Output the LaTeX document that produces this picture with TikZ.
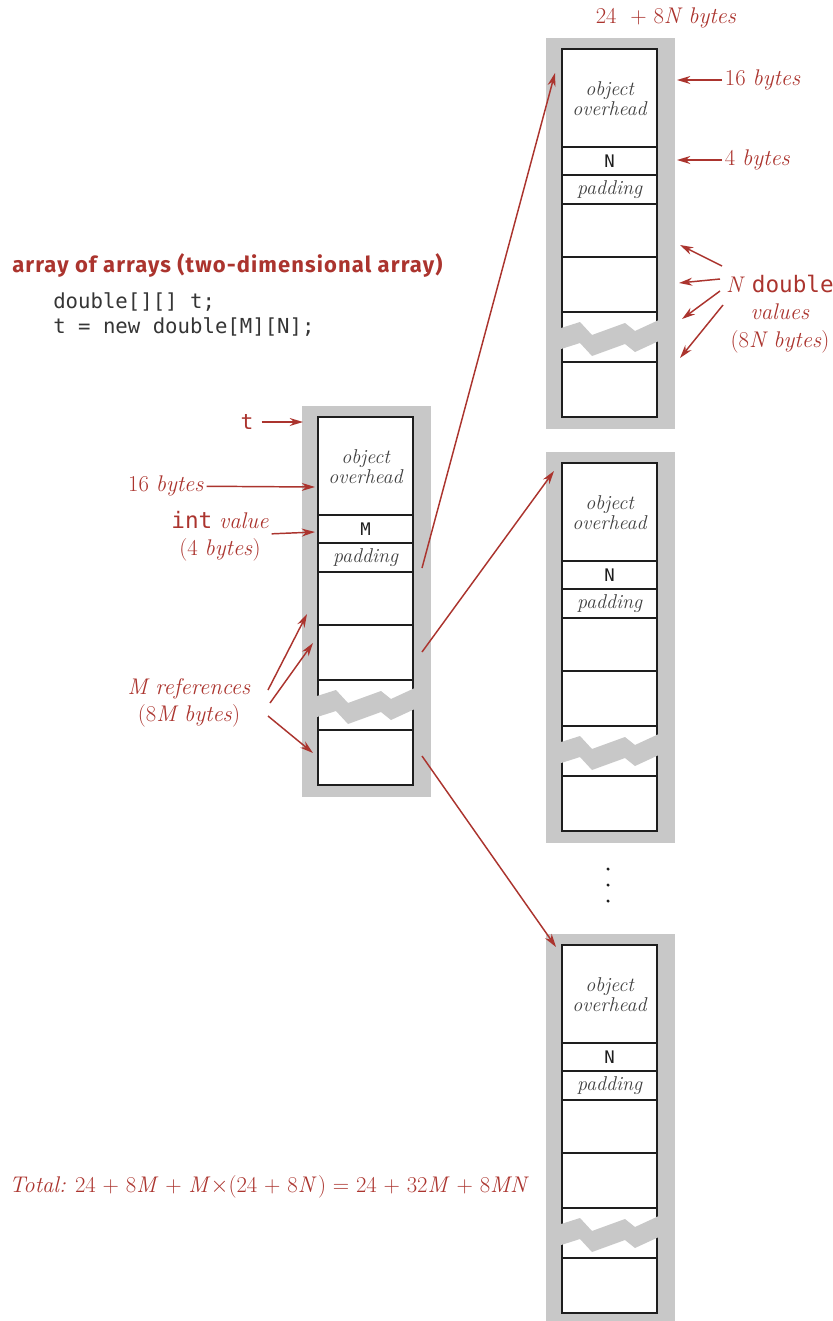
\documentclass[tikz,border=0pt]{standalone}
\usepackage{fontspec}
\setsansfont{Fira Sans}
\newfontfamily\headfont[LetterSpace=5]{Fira Sans}
\setmonofont{DejaVu Sans Mono}
\usetikzlibrary{arrows.meta}
\definecolor{brick}{RGB}{171,52,46}
\definecolor{shade}{RGB}{200,200,200}
\definecolor{ink}{RGB}{30,30,30}

\begin{document}
\begin{tikzpicture}[
  x=0.75pt, y=-0.75pt,
  fr/.style={fill=shade},
  cellln/.style={draw=ink, line width=1.3pt},
  cellt/.style={align=center, inner sep=0pt, text=ink!85, font=\fontsize{15}{15}\selectfont\itshape},
  cellm/.style={inner sep=0pt, text=ink, font=\fontsize{13}{14}\selectfont\ttfamily},
  lb/.style={text=brick, align=center, inner sep=2pt, font=\fontsize{17}{20.5}\selectfont},
  ar/.style={-{Stealth[length=10pt, width=6pt]}, brick, line width=1.1pt}]
\useasboundingbox (0,0) rectangle (832,1321);

% ---- the four arrays: gray frame, cells, torn part ----
\foreach \nm/\x/\y/\v in {ta/318/417/M, a1/562/49/N, a2/562/463/N, a3/562/945/N}{
  \fill[fr] (\x-16.5,\y-11) rectangle (\x+112.5,\y+380);
  \fill[white] (\x,\y) rectangle (\x+95,\y+368);
  \draw[cellln] (\x,\y) rectangle (\x+95,\y+368);
  \foreach \r in {98,126,155,208,263,313}
    \draw[cellln] (\x,\y+\r) -- (\x+95,\y+\r);
  \fill[fr] (\x-4,\y+280) -- (\x+18,\y+273) -- (\x+30,\y+286) -- (\x+63,\y+274)
    -- (\x+73,\y+282) -- (\x+99,\y+270) -- (\x+99,\y+291) -- (\x+73,\y+303)
    -- (\x+63,\y+295) -- (\x+30,\y+307) -- (\x+18,\y+294) -- (\x-4,\y+301) -- cycle;
  \node[cellt] (\nm-oh) at (\x+47.5,\y+50) {object\\overhead};
  \node[cellm] (\nm-len) at (\x+47.5,\y+112) {\v};
  \node[cellt] (\nm-pad) at (\x+47.5,\y+140.5) {padding};
}
\foreach \d in {869,885,901} \fill[ink] (608,\d) circle (1.3pt);

% ---- heading and code ----
\node[anchor=base west, inner sep=0pt, text=brick, font=\fontsize{16.5}{18}\selectfont\headfont\bfseries] (title) at (12,272) {array of arrays (two-dimensional array)};
\node[anchor=base west, inner sep=0pt, text=ink!90, font=\fontsize{15.5}{18}\selectfont\ttfamily] (code1) at (53,308) {double[][] t;};
\node[anchor=base west, inner sep=0pt, text=ink!90, font=\fontsize{15.5}{18}\selectfont\ttfamily] (code2) at (53,333) {t = new double[M][N];};

% ---- references from t to the rows ----
\coordinate (ta-r1) at (422,568);
\coordinate (ta-r2) at (422,652);
\coordinate (ta-r3) at (422,756);
\coordinate (a1-in) at (555,73);
\coordinate (a2-in) at (554,471);
\coordinate (a3-in) at (556,947);
\draw[ar] (ta-r1) -- (a1-in);
\draw[ar] (ta-r2) -- (a2-in);
\draw[ar] (ta-r3) -- (a3-in);

% ---- labels of the array of arrays ----
\node[lb, font=\fontsize{16}{20}\selectfont\ttfamily] (lbt) at (247,422) {t};
\coordinate (ta-top) at (303,422);
\draw[ar, shorten <=4pt] (lbt) -- (ta-top);
\node[lb] (lb16b) at (166,486) {16 \textit{bytes}};
\coordinate (ta-ohp) at (315,487);
\draw[ar] (lb16b) -- (ta-ohp);
\node[lb] (lbint) at (220,536) {\texttt{int} \textit{value}\\(4 \textit{bytes})};
\coordinate (ta-lenp) at (315,532);
\draw[ar] (lbint) -- (ta-lenp);
\node[lb] (lbmr) at (189,703) {\textit{M references}\\(8\textit{M bytes})};
\coordinate (mr-1) at (268,690);
\coordinate (mr-2) at (270,703);
\coordinate (mr-3) at (268,716);
\coordinate (ta-p1) at (307,614);
\coordinate (ta-p2) at (313,643);
\coordinate (ta-p3) at (313,753);
\draw[ar] (mr-1) -- (ta-p1);
\draw[ar] (mr-2) -- (ta-p2);
\draw[ar] (mr-3) -- (ta-p3);

% ---- labels of one row ----
\node[lb] (lbrow) at (666,18) {24\ \ + 8\textit{N bytes}};
\node[lb, anchor=west] (lb16) at (722,80) {16 \textit{bytes}};
\coordinate (a1-ohp) at (677,80);
\draw[ar] (lb16.west) -- (a1-ohp);
\node[lb, anchor=west] (lb4) at (722,160) {4 \textit{bytes}};
\coordinate (a1-lenp) at (677,160);
\draw[ar] (lb4.west) -- (a1-lenp);
\node[lb] (lbnd) at (780,314) {\textit{N} \texttt{double}\\\textit{values}\\(8\textit{N bytes})};
\coordinate (nd-1) at (722,266);
\coordinate (nd-2) at (720,279);
\coordinate (nd-3) at (720,291);
\coordinate (nd-4) at (723,305);
\coordinate (a1-v1) at (680,245);
\coordinate (a1-v2) at (679,283);
\coordinate (a1-v3) at (682,319);
\coordinate (a1-v4) at (680,358);
\draw[ar] (nd-1) -- (a1-v1);
\draw[ar] (nd-2) -- (a1-v2);
\draw[ar] (nd-3) -- (a1-v3);
\draw[ar] (nd-4) -- (a1-v4);

% ---- total ----
\node[lb, anchor=base west, inner sep=0pt] (lbsum) at (9,1192) {\textit{Total:} 24 + 8\textit{M} + \textit{M}$\times$(24 + 8\textit{N\,}) = 24 + 32\textit{M} + 8\textit{MN}};
\end{tikzpicture}
\end{document}
